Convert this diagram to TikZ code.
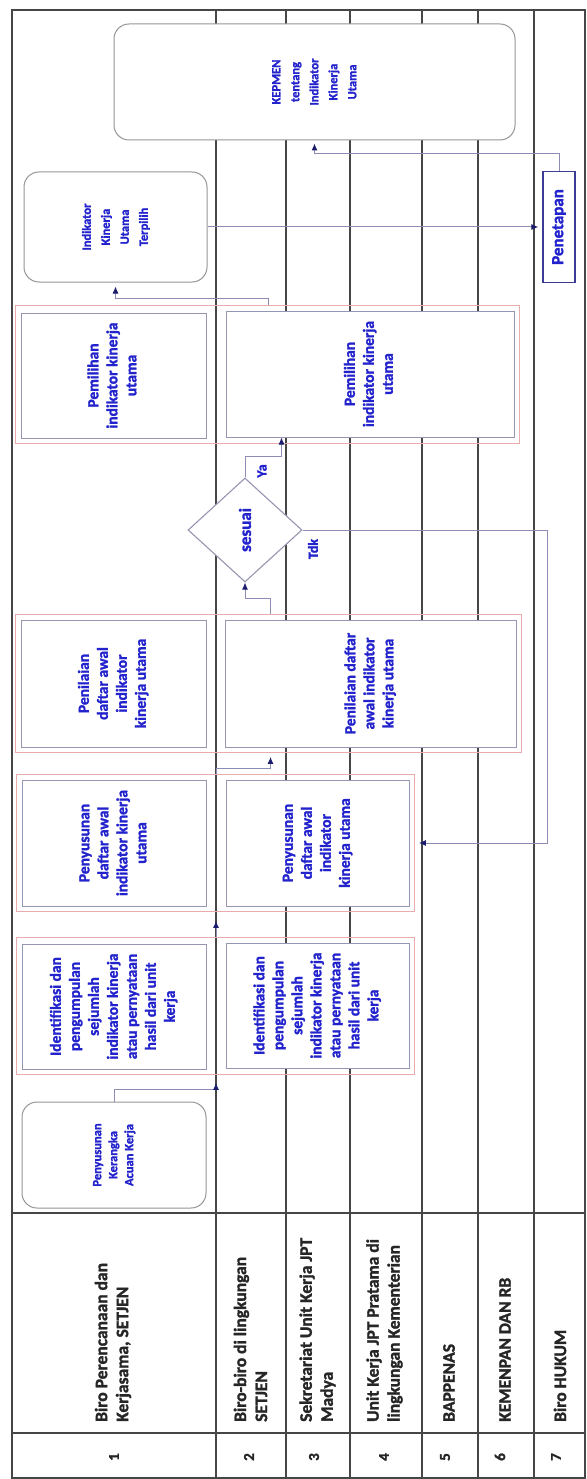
\documentclass[tikz,border=0pt]{standalone}
\usepackage{fontspec}
\setmainfont{Carlito}[BoldFeatures={FakeBold=1.6}]
\usepackage{tikz}
\usetikzlibrary{arrows.meta,calc,fit,shapes.geometric,positioning}
\definecolor{laneline}{RGB}{70,70,70}
\definecolor{boxline}{RGB}{150,150,178}
\definecolor{frameline}{RGB}{232,172,172}
\definecolor{roundline}{RGB}{150,150,155}
\definecolor{flowline}{RGB}{140,140,182}
\definecolor{tipblue}{RGB}{28,28,110}
\definecolor{textblue}{RGB}{35,35,205}
\definecolor{penline}{RGB}{60,60,150}

\newcommand{\vlines}[1]{\rotatebox{90}{\begin{tabular}{@{}c@{}}#1\end{tabular}}}

\begin{document}
\begin{tikzpicture}[x=1pt,y=-1pt,
    lane/.style={draw=laneline, line width=1.3pt},
    head/.style={rotate=90, anchor=west, align=left, inner sep=0pt, text=black!85,
        font={\bfseries\fontsize{17.5}{21}\selectfont}},
    num/.style={rotate=90, inner sep=0pt, text=black!85, font={\bfseries\fontsize{15}{15}\selectfont}},
    stepbox/.style={draw=boxline, fill=white, line width=1pt, inner sep=0pt, text=textblue,
        font={\bfseries\fontsize{15.5}{19}\selectfont}},
    endbox/.style={draw=roundline, fill=white, line width=1pt, rounded corners=15pt, inner sep=0pt,
        text=textblue, font={\bfseries\fontsize{12.5}{19}\selectfont}},
    frame/.style={draw=frameline, line width=0.8pt, inner sep=5pt},
    decide/.style={diamond, draw=boxline, fill=white, line width=1.1pt, inner sep=0pt, text=textblue,
        font={\bfseries\fontsize{17}{17}\selectfont}},
    lbl/.style={rotate=90, inner sep=0pt, text=textblue, font={\bfseries\fontsize{14}{14}\selectfont}},
    flow/.style={draw=flowline, line width=1pt, -{Latex[length=7pt,width=6pt,color=tipblue]}}]

    % page
    \fill[white] (0,0) rectangle (586,1479);
    \useasboundingbox (0,0) rectangle (586,1479);

    % lanes and header grid
    \draw[lane] (12,10) rectangle (585,1478);
    \foreach \lx in {216,286,350,422,478,534}
        \draw[lane] (\lx,10) -- (\lx,1478);
    \draw[lane, line width=1.8pt] (12,1213) -- (585,1213);
    \draw[lane] (12,1433) -- (585,1433);
    \coordinate (L2) at (216,10);

    % lane names
    \node[head] (h1) at (113,1422) {Biro Perencanaan dan\\Kerjasama, SETJEN};
    \node[head] (h2) at (250.5,1422) {Biro-biro di lingkungan\\SETJEN};
    \node[head] (h3) at (317.5,1422) {Sekretariat Unit Kerja JPT\\Madya};
    \node[head] (h4) at (384.5,1422) {Unit Kerja JPT Pratama di\\lingkungan Kementerian};
    \node[head] (h5) at (449,1422) {BAPPENAS};
    \node[head] (h6) at (505,1422) {KEMENPAN DAN RB};
    \node[head] (h7) at (560,1422) {Biro HUKUM};
    \foreach \n/\lx in {1/114,2/249,3/314,4/384,5/445,6/500,7/556}
        \node[num] (n\n) at (\lx,1457) {\n};

    % start
    \node[endbox, minimum width=184pt, minimum height=106pt, font={\bfseries\fontsize{12.5}{16}\selectfont}]
        (kerangka) at (114,1155) {\vlines{Penyusunan\\Kerangka\\Acuan Kerja}};

    % identifikasi
    \node[stepbox, minimum width=184pt, minimum height=125pt] (idA) at (114,1006.5)
        {\vlines{Identifikasi dan\\pengumpulan\\sejumlah\\indikator kinerja\\atau pernyataan\\hasil dari unit\\kerja}};
    \node[stepbox, minimum width=183pt, minimum height=125pt] (idB) at (317.5,1005.5)
        {\vlines{Identifikasi dan\\pengumpulan\\sejumlah\\indikator kinerja\\atau pernyataan\\hasil dari unit\\kerja}};
    \node[frame, fit=(idA)(idB)] (idF) {};

    % penyusunan daftar awal
    \node[stepbox, minimum width=184pt, minimum height=126pt] (pyA) at (114,843)
        {\vlines{Penyusunan\\daftar awal\\indikator kinerja\\utama}};
    \node[stepbox, minimum width=183pt, minimum height=126pt] (pyB) at (317.5,843)
        {\vlines{Penyusunan\\daftar awal\\indikator\\kinerja utama}};
    \node[frame, fit=(pyA)(pyB)] (pyF) {};

    % penilaian
    \node[stepbox, minimum width=185pt, minimum height=127pt] (nilA) at (113.5,683.5)
        {\vlines{Penilaian\\daftar awal\\indikator\\kinerja utama}};
    \node[stepbox, minimum width=291pt, minimum height=127pt] (nilB) at (370.5,683.5)
        {\vlines{Penilaian daftar\\awal indikator\\kinerja utama}};
    \node[frame, fit=(nilA)(nilB)] (nlF) {};

    % keputusan
    \node[decide, minimum width=114pt, minimum height=104pt] (cek) at (245,530) {\rotatebox{90}{sesuai}};

    % pemilihan
    \node[stepbox, minimum width=185pt, minimum height=125pt] (pilA) at (113.5,375.5)
        {\vlines{Pemilihan\\indikator kinerja\\utama}};
    \node[stepbox, minimum width=288pt, minimum height=126pt] (pilB) at (370,374)
        {\vlines{Pemilihan\\indikator kinerja\\utama}};
    \node[frame, fit=(pilA)(pilB)] (plF) {};

    % hasil
    \node[endbox, minimum width=183pt, minimum height=110pt] (terpilih) at (115.5,227)
        {\vlines{Indikator\\Kinerja\\Utama\\Terpilih}};
    \node[draw=penline, fill=white, line width=1.4pt, inner sep=0pt, minimum width=32pt, minimum height=111pt,
        text=textblue, font={\bfseries\fontsize{17}{17}\selectfont}] (penetapan) at (559,227) {\rotatebox{90}{Penetapan}};
    \node[endbox, minimum width=401pt, minimum height=116pt] (kepmen) at (314.5,82)
        {\vlines{KEPMEN\\tentang\\Indikator\\Kinerja\\Utama}};

    % alur
    \draw[flow] (kerangka.north) -- ++(0,-12) -| ($(idF.south -| L2)+(0,8)$);
    \draw[flow] (idF.north -| L2) -- ($(pyF.south -| L2)+(0,9)$);
    \draw[flow] (pyF.north -| L2) -- ++(0,-6) -| ($(nlF.south -| nilB.west)+(46,4)$);
    \draw[flow] ($(nlF.north -| nilB.west)+(46,0)$) -- ++(0,-16) -| (cek.south);
    \draw[flow] (cek.north) -- ++(0,-21) -| ($(pilB.south west)+(56,0)$);
    \draw[flow] (cek.east) -- ++(245,0) |- ($(pyF.east)+(4,0)$);
    \draw[flow] ($(plF.north -| pilB.west)+(43,0)$) -- ++(0,-7) -| ($(terpilih.south)+(0,4)$);
    \draw[flow] (terpilih.east) -- ($(penetapan.west)+(-4,0)$);
    \draw[flow] (penetapan.north) -- ++(0,-17) -| ($(kepmen.south)+(0,3)$);

    \node[lbl] (ya) at (262,471) {Ya};
    \node[lbl] (tdk) at (313,549) {Tdk};
\end{tikzpicture}
\end{document}
